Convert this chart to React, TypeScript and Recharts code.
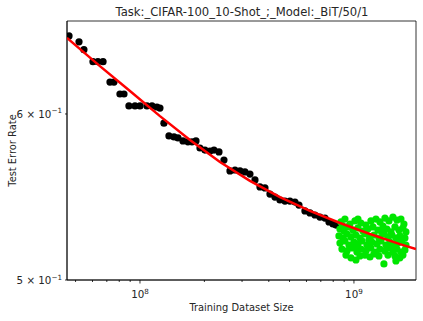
import React from 'react';
import { ComposedChart, Scatter, XAxis, YAxis, ReferenceArea } from 'recharts';

const title = 'Task:_CIFAR-100_10-Shot_;_Model:_BiT/50/1';
const xLabel = 'Training Dataset Size';
const yLabel = 'Test Error Rate';

const xDomain = [4.56e7, 1.95e9];
const yDomain = [0.5, 0.6645];
const xTicks = [5e7, 6e7, 7e7, 8e7, 9e7, 1e8, 2e8, 3e8, 4e8, 5e8, 6e8, 7e8, 8e8, 9e8, 1e9];
const xMajorTicks = [1e8, 1e9];
const xMajorExp = ['8', '9'];
const yTicks = [0.5, 0.6];
const yTickMant = ['5', '6'];

const blackX = [
  4.66e7, 5.19e7, 5.47e7, 6.03e7, 6.36e7, 6.72e7, 7.24e7, 7.56e7, 8.06e7, 8.42e7,
  8.88e7, 9.48e7, 1.0e8, 1.078e8, 1.138e8, 1.2e8, 1.24e8, 1.294e8, 1.366e8, 1.442e8,
  1.505e8, 1.588e8, 1.676e8, 1.75e8, 1.827e8, 1.907e8, 2.012e8, 2.124e8, 2.218e8, 2.34e8,
  2.469e8, 2.634e8, 2.78e8, 2.934e8, 3.095e8, 3.266e8, 3.447e8, 3.637e8, 3.838e8, 4.05e8,
  4.273e8, 4.51e8, 4.76e8, 5.023e8, 5.301e8, 5.534e8, 5.902e8, 6.228e8, 6.573e8, 6.936e8,
  7.32e8, 7.642e8, 7.979e8, 8.241e8,
];
const blackY = [
  0.6537, 0.6495, 0.6439, 0.6355, 0.6355, 0.6355, 0.6214, 0.6214, 0.6133, 0.6133,
  0.6053, 0.6053, 0.6053, 0.6053, 0.6053, 0.6046, 0.6039, 0.594, 0.5857, 0.5851,
  0.5844, 0.5825, 0.5819, 0.5819, 0.5825, 0.578, 0.5767, 0.5761, 0.5767, 0.5755,
  0.5704, 0.5636, 0.5642, 0.5636, 0.563, 0.5617, 0.5581, 0.5538, 0.5532, 0.5495,
  0.5477, 0.5459, 0.5453, 0.5453, 0.5447, 0.5429, 0.5394, 0.5382, 0.537, 0.5358,
  0.5352, 0.5329, 0.5317, 0.5311,
];

const greenX = [
  0.8695e9, 0.9077e9, 0.9579e9, 1.0108e9, 1.0782e9, 1.1378e9, 1.2007e9, 1.2671e9, 1.3228e9, 1.396e9, 1.4573e9, 1.5214e9, 1.5883e9, 1.6582e9, 1.7125e9,
  0.8602e9, 0.898e9, 0.9375e9, 0.9893e9, 1.044e9, 1.1017e9, 1.1626e9, 1.2269e9, 1.2947e9, 1.3662e9, 1.4263e9, 1.489e9, 1.5545e9, 1.6229e9, 1.6942e9, 1.7498e9,
  0.851e9, 0.8884e9, 0.9275e9, 0.9683e9, 1.0218e9, 1.0667e9, 1.1257e9, 1.1879e9, 1.2401e9, 1.3087e9, 1.381e9, 1.4417e9, 1.5051e9, 1.5713e9, 1.6404e9, 1.7311e9,
  0.8602e9, 0.9077e9, 0.9477e9, 1.0e9, 1.044e9, 1.0899e9, 1.1501e9, 1.2137e9, 1.2808e9, 1.3372e9, 1.4111e9, 1.4731e9, 1.5379e9, 1.6055e9, 1.6761e9, 1.7498e9,
  0.8789e9, 0.9275e9, 0.9788e9, 1.0328e9, 1.0782e9, 1.1378e9, 1.2007e9, 1.2671e9, 1.3228e9, 1.396e9, 1.4573e9, 1.5214e9, 1.5883e9, 1.6582e9, 1.7311e9,
  0.9176e9, 0.9683e9, 1.0218e9, 1.0667e9, 1.1257e9, 1.1879e9, 1.2401e9, 1.3087e9, 1.4417e9, 1.5545e9, 1.6404e9, 1.6942e9,
  1.381e9, 1.5713e9, 0.8884e9, 1.044e9, 1.3516e9, 1.1752e9, 1.5051e9, 1.0108e9,
];
const greenY = [
  0.5329, 0.5346, 0.5317, 0.5335, 0.5323, 0.5311, 0.5335, 0.5346, 0.5329, 0.5352, 0.5335, 0.5358, 0.534, 0.5346, 0.5317,
  0.5288, 0.5276, 0.53, 0.5282, 0.5294, 0.5276, 0.5288, 0.53, 0.5282, 0.5305, 0.5288, 0.5271, 0.53, 0.5282, 0.5294, 0.5271,
  0.5248, 0.5236, 0.5259, 0.5242, 0.5253, 0.5236, 0.5259, 0.5242, 0.5253, 0.5236, 0.5259, 0.5242, 0.5253, 0.5236, 0.5248, 0.5236,
  0.5207, 0.5219, 0.5196, 0.5213, 0.5202, 0.5219, 0.5196, 0.5213, 0.5202, 0.5219, 0.5196, 0.5213, 0.519, 0.5207, 0.5219, 0.5196,
  0.5173, 0.5162, 0.5179, 0.5156, 0.5173, 0.5162, 0.5179, 0.5156, 0.5173, 0.5162, 0.5179, 0.5156, 0.5173, 0.5156, 0.5168,
  0.5139, 0.5123, 0.5111, 0.5134, 0.5139, 0.5128, 0.5145, 0.5134, 0.5139, 0.5134, 0.5123, 0.5139,
  0.5089, 0.5106, 0.5305, 0.5346, 0.5271, 0.5225, 0.5196, 0.5185,
];

const fitX = [4.56e7, 6.5e7, 8.98e7, 1.24e8, 1.713e8, 2.365e8, 3.266e8, 4.51e8, 6.228e8, 8.601e8, 1.188e9, 1.641e9, 1.949e9];
const fitY = [0.6523, 0.6324, 0.6153, 0.5986, 0.5831, 0.5692, 0.5575, 0.5477, 0.5394, 0.5323, 0.5259, 0.5201, 0.5173];

const blackData = blackX.map((x, i) => ({ x, y: blackY[i] }));
const greenData = greenX.map((x, i) => ({ x, y: greenY[i] }));
const fitData = fitX.map((x, i) => ({ x, y: fitY[i] }));

const FONT = 'DejaVu Sans, Verdana, sans-serif';
const TEXT = '#262626';

const XTick = (props: any) => {
  const { x, y, payload } = props;
  const idx = xMajorTicks.indexOf(payload.value);
  const major = idx >= 0;
  return (
    <g>
      <line x1={x} x2={x} y1={y} y2={y + (major ? 3.5 : 2)} stroke="#000" strokeWidth={0.8} />
      {major && (
        <text x={x} y={y + 18} textAnchor="middle" fontFamily={FONT} fontSize={10.3} fill={TEXT}>
          10<tspan dy={-4.5} fontSize={7.2}>{xMajorExp[idx]}</tspan>
        </text>
      )}
    </g>
  );
};

const YTick = (props: any) => {
  const { x, y, payload } = props;
  const idx = yTicks.indexOf(payload.value);
  return (
    <g>
      <line x1={x} x2={x - 2} y1={y} y2={y} stroke="#000" strokeWidth={0.8} />
      <text x={x - 5} y={y + 4} textAnchor="end" fontFamily={FONT} fontSize={10.3} fill={TEXT}>
        {yTickMant[idx]} × 10<tspan dy={-4.5} fontSize={7.2}>−1</tspan>
      </text>
    </g>
  );
};

const Dot = (color: string) => (props: any) => (
  <circle cx={props.cx} cy={props.cy} r={3.6} fill={color} />
);

export default function App() {
  return (
    <div style={{ position: 'absolute', left: 0, top: 0, background: '#fff' }}>
      <ComposedChart width={423} height={321} margin={{ top: 21, right: 7, bottom: 0, left: 0 }}>
        <XAxis
          dataKey="x"
          type="number"
          scale="log"
          domain={xDomain}
          allowDataOverflow
          ticks={xTicks}
          interval={0}
          tickSize={0}
          tickMargin={0}
          tickLine={false}
          tick={<XTick />}
          height={41}
          axisLine={{ stroke: '#000', strokeWidth: 0.8 }}
          label={{
            content: () => (
              <g>
                <text x={241.5} y={311} textAnchor="middle" fontFamily={FONT} fontSize={9.9} fill={TEXT}>
                  {xLabel}
                </text>
                <text x={242} y={16} textAnchor="middle" fontFamily={FONT} fontSize={11.6} fill={TEXT}>
                  {title}
                </text>
              </g>
            ),
          }}
        />
        <YAxis
          dataKey="y"
          type="number"
          scale="log"
          domain={yDomain}
          allowDataOverflow
          ticks={yTicks}
          interval={0}
          tickSize={0}
          tickMargin={0}
          tickLine={false}
          tick={<YTick />}
          width={67}
          axisLine={{ stroke: '#000', strokeWidth: 0.8 }}
          label={{
            content: () => (
              <text
                x={16}
                y={150.5}
                transform="rotate(-90 16 150.5)"
                textAnchor="middle"
                fontFamily={FONT}
                fontSize={9.9}
                fill={TEXT}
              >
                {yLabel}
              </text>
            ),
          }}
        />
        <ReferenceArea
          x1={xDomain[0]}
          x2={xDomain[1]}
          y1={yDomain[0]}
          y2={yDomain[1]}
          fill="none"
          fillOpacity={0}
          stroke="#000"
          strokeWidth={0.8}
          strokeOpacity={1}
          ifOverflow="visible"
        />
        <Scatter data={blackData} shape={Dot('#000000')} isAnimationActive={false} />
        <Scatter data={greenData} shape={Dot('#00e600')} isAnimationActive={false} />
        <Scatter
          data={fitData}
          line={{ stroke: '#ff0000', strokeWidth: 2.5 }}
          lineType="joint"
          shape={() => <g />}
          isAnimationActive={false}
        />
      </ComposedChart>
    </div>
  );
}
